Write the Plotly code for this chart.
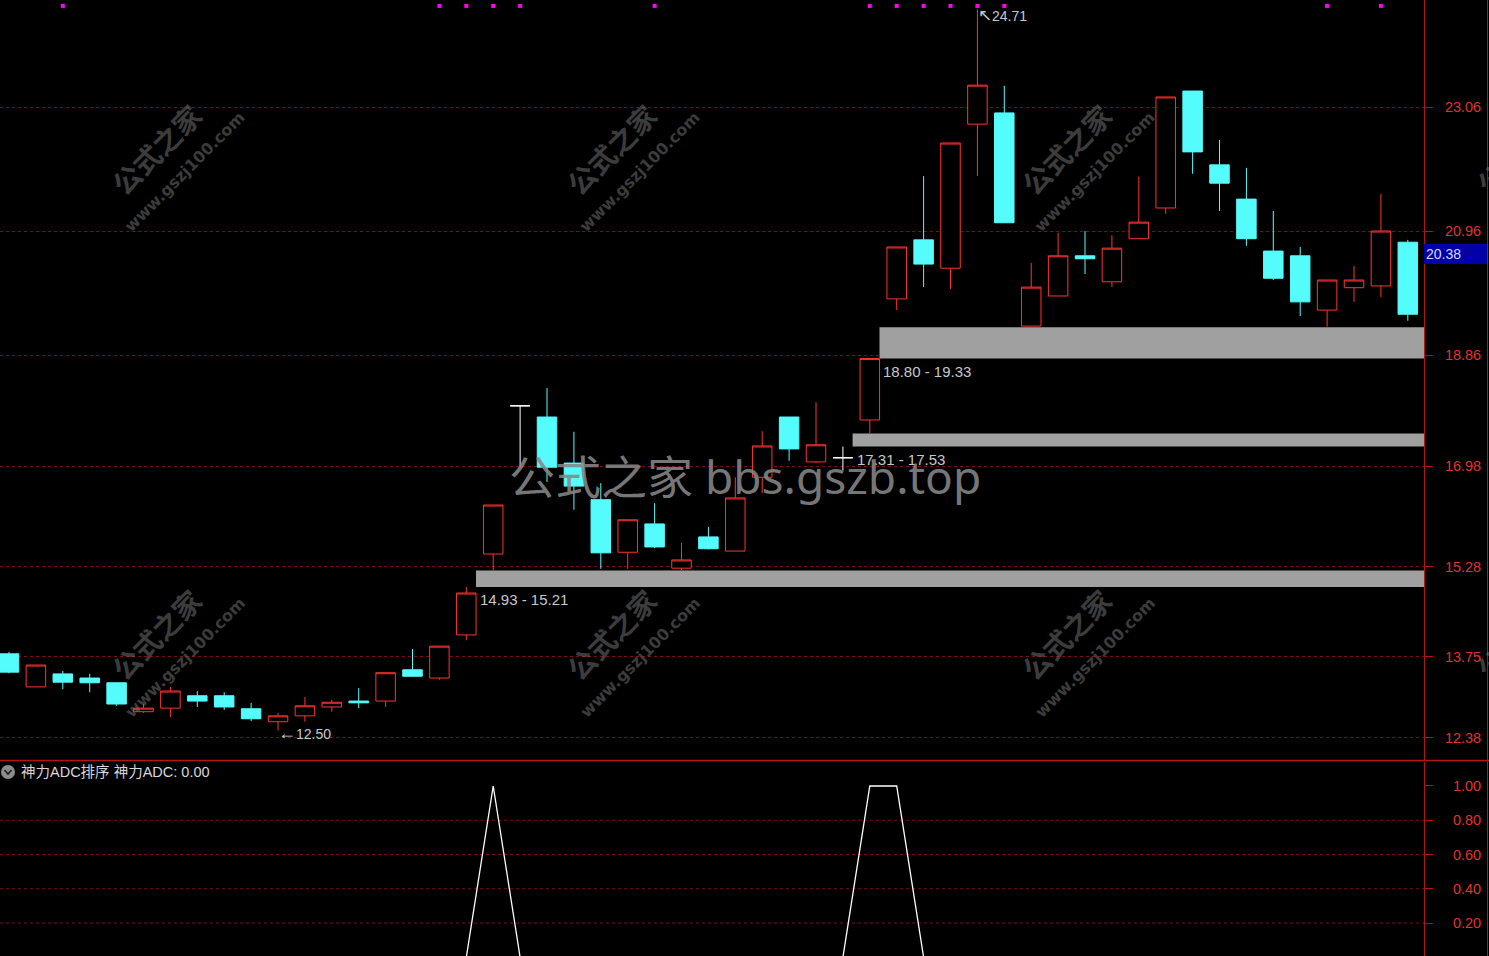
import plotly.graph_objects as go

# ---------------- data ----------------
OPEN = [13.80, 13.24, 13.46, 13.39, 13.31, 12.82, 12.88, 13.09, 13.09, 12.87,
        12.65, 12.75, 12.90, 13.00, 13.00, 13.53, 13.39, 14.12, 15.49, 18.00,
        17.81, 17.03, 16.41, 15.52, 16.00, 15.25, 15.78, 15.54, 16.79, 17.81,
        17.05, 17.12, 17.76, 19.81, 20.81, 20.33, 22.77, 22.96, 19.35, 19.86,
        20.54, 20.10, 20.83, 21.35, 23.33, 22.08, 21.50, 20.62, 20.54, 19.62,
        20.00, 20.03, 20.77]
HIGH = [13.83, 13.61, 13.51, 13.46, 13.31, 12.95, 13.24, 13.17, 13.15, 12.97,
        12.80, 13.07, 13.02, 13.22, 13.48, 13.88, 13.93, 14.93, 16.32, 18.00,
        18.30, 17.56, 16.69, 16.07, 16.35, 15.68, 15.95, 16.79, 17.57, 17.81,
        18.06, 17.31, 18.80, 20.69, 21.89, 22.45, 24.71, 23.42, 20.42, 20.93,
        20.96, 20.89, 21.88, 23.23, 23.33, 22.50, 22.03, 21.30, 20.69, 20.13,
        20.37, 21.59, 20.81]
LOW = [13.47, 13.24, 13.20, 13.15, 12.92, 12.80, 12.73, 12.90, 12.85, 12.66,
       12.50, 12.65, 12.82, 12.88, 12.90, 13.41, 13.36, 14.03, 15.21, 16.95,
       16.71, 16.24, 15.24, 15.24, 15.59, 15.22, 15.57, 15.54, 16.52, 17.07,
       17.03, 16.91, 17.53, 19.62, 20.01, 19.98, 21.89, 21.10, 19.35, 19.86,
       20.23, 20.01, 20.83, 21.25, 21.93, 21.30, 20.71, 20.13, 19.52, 19.34,
       19.76, 19.84, 19.44]
CLOSE = [13.49, 13.61, 13.32, 13.31, 12.95, 12.88, 13.17, 13.00, 12.90, 12.70,
         12.75, 12.92, 12.98, 12.97, 13.48, 13.42, 13.93, 14.83, 16.32, 18.00,
         16.96, 16.64, 15.51, 16.07, 15.61, 15.39, 15.58, 16.44, 17.32, 17.27,
         17.34, 17.12, 18.80, 20.69, 20.40, 22.45, 23.43, 21.10, 20.01, 20.54,
         20.49, 20.67, 21.11, 23.23, 22.30, 21.77, 20.83, 20.16, 19.76, 20.13,
         20.13, 20.96, 19.55]
DOJI_IDX = [19, 31]
ADC = [0, 0, 0, 0, 0, 0, 0, 0, 0, 0,
       0, 0, 0, 0, 0, 0, 0, 0, 1, 0,
       0, 0, 0, 0, 0, 0, 0, 0, 0, 0,
       0, 0, 1, 1, 0, 0, 0, 0, 0, 0,
       0, 0, 0, 0, 0, 0, 0, 0, 0, 0,
       0, 0, 0]
SIGNAL_IDX = [2, 16, 17, 18, 19, 24, 32, 33, 34, 35, 36, 37, 49, 51]
ZONE_START = [17, 31, 32]
ZONE_LO = [14.93, 17.31, 18.80]
ZONE_HI = [15.21, 17.53, 19.33]
PRICE_TICKS = [12.38, 13.75, 15.28, 16.98, 18.86, 20.96, 23.06]
ADC_TICKS = [0.20, 0.40, 0.60, 0.80, 1.00]
ADC_GRID = [0.20, 0.40, 0.60, 0.80]
LAST_PRICE = 20.38
HIGH_IDX, HIGH_VAL = 36, 24.71
LOW_IDX, LOW_VAL = 10, 12.50
PANEL_TITLE = "神力ADC排序 神力ADC: 0.00"

# ---------------- geometry / style ----------------
W, H = 1489, 956
PW = 1424
XMIN, XMAX = -0.335, 52.602
YMIN, YMAX = 12.002, 24.872
Y2MIN, Y2MAX = 0.0073, 1.1401
MAIN_DOM = [1 - 760 / H, 1.0]
SUB_DOM = [0.0, 1 - 762 / H]

RED = "#ff3232"
CYAN = "#54fcfc"
AXRED = "#b41414"
GRID = "#7a1010"
LABEL = "#e03232"
TXT = "#c8c8c8"

idx = list(range(len(OPEN)))
normal = [i for i in idx if i not in DOJI_IDX]

fig = go.Figure()

fig.add_trace(go.Candlestick(
    x=normal,
    open=[OPEN[i] for i in normal], high=[HIGH[i] for i in normal],
    low=[LOW[i] for i in normal], close=[CLOSE[i] for i in normal],
    increasing=dict(line=dict(color=RED, width=1), fillcolor="#000000"),
    decreasing=dict(line=dict(color=CYAN, width=1), fillcolor=CYAN),
    whiskerwidth=0, xaxis="x", yaxis="y", showlegend=False, hoverinfo="skip"))

fig.add_trace(go.Candlestick(
    x=DOJI_IDX,
    open=[OPEN[i] for i in DOJI_IDX], high=[HIGH[i] for i in DOJI_IDX],
    low=[LOW[i] for i in DOJI_IDX], close=[CLOSE[i] for i in DOJI_IDX],
    increasing=dict(line=dict(color="#ffffff", width=1), fillcolor="#ffffff"),
    decreasing=dict(line=dict(color="#ffffff", width=1), fillcolor="#ffffff"),
    whiskerwidth=0, xaxis="x", yaxis="y", showlegend=False, hoverinfo="skip"))

fig.add_trace(go.Scatter(
    x=SIGNAL_IDX, y=[YMAX - 0.1] * len(SIGNAL_IDX), mode="markers",
    marker=dict(symbol="square", size=4, color="#ff00ff"),
    xaxis="x", yaxis="y", showlegend=False, hoverinfo="skip"))

fig.add_trace(go.Scatter(
    x=idx, y=ADC, mode="lines", line=dict(color="#ffffff", width=1.3),
    xaxis="x", yaxis="y2", showlegend=False, hoverinfo="skip"))

shapes = []
annotations = []

# gap zones
for s, lo, hi in zip(ZONE_START, ZONE_LO, ZONE_HI):
    shapes.append(dict(type="rect", xref="x", yref="y", x0=s + 0.36, x1=XMAX,
                       y0=lo, y1=hi, fillcolor="#a0a0a0", line=dict(width=0),
                       layer="between"))
    annotations.append(dict(xref="x", yref="y", x=s + 0.36, y=lo,
                            text=f"{lo:.2f} - {hi:.2f}", showarrow=False,
                            xanchor="left", yanchor="top", xshift=2, yshift=-2,
                            font=dict(family="Liberation Sans", size=15, color=TXT)))

# lower-panel grid
for g in ADC_GRID:
    shapes.append(dict(type="line", xref="paper", yref="y2", x0=0, x1=1, y0=g, y1=g,
                       line=dict(color=GRID, width=1, dash="dot"), layer="below"))

# frame lines
shapes.append(dict(type="line", xref="paper", yref="paper", x0=0, x1=W / PW,
                   y0=1 - 760.5 / H, y1=1 - 760.5 / H, line=dict(color=AXRED, width=1.5)))
shapes.append(dict(type="line", xref="paper", yref="paper", x0=1487.5 / PW, x1=1487.5 / PW,
                   y0=0, y1=1, line=dict(color=AXRED, width=1)))

# panel icon
shapes.append(dict(type="circle", xref="paper", yref="paper",
                   x0=1 / PW, x1=15 / PW, y0=1 - 779 / H, y1=1 - 765 / H,
                   fillcolor="#8c8c8c", line=dict(width=0)))
shapes.append(dict(type="path", xref="paper", yref="paper",
                   path=f"M {4.5/PW},{1-770/H} L {8/PW},{1-774/H} L {11.5/PW},{1-770/H}",
                   line=dict(color="#1a1a1a", width=1.5)))

# high / low marks
annotations.append(dict(xref="x", yref="y", x=HIGH_IDX, y=HIGH_VAL,
                        text=f"<span style='font-size:17px'>↖</span>{HIGH_VAL:.2f}",
                        showarrow=False, xanchor="left", yanchor="middle", xshift=-1, yshift=-6,
                        font=dict(family="Liberation Sans", size=14, color=TXT)))
annotations.append(dict(xref="x", yref="y", x=LOW_IDX, y=LOW_VAL,
                        text=f"<span style='font-size:18px'>←</span>{LOW_VAL:.2f}",
                        showarrow=False, xanchor="left", yanchor="middle", xshift=-2, yshift=-2,
                        font=dict(family="Liberation Sans", size=14, color=TXT)))

# last price label
annotations.append(dict(xref="paper", yref="y", x=1, y=LAST_PRICE, text=f"{LAST_PRICE:.2f}",
                        showarrow=False, xanchor="left", yanchor="middle", yshift=11,
                        width=59, align="left", bgcolor="#0000a8", bordercolor="#0000a8",
                        borderwidth=1, borderpad=1,
                        font=dict(family="Liberation Sans", size=14, color="#d8d8ff")))

# panel title
annotations.append(dict(xref="paper", yref="paper", x=19 / PW, y=1 - 772 / H, text=PANEL_TITLE,
                        showarrow=False, xanchor="left", yanchor="middle",
                        font=dict(family="Liberation Sans, Noto Sans CJK SC", size=14.5, color="#d8d8d8")))

# small watermarks
for r in range(2):
    for c in range(4):
        tx, ty = 156 + 455 * c, 149 + 485 * r
        annotations.append(dict(xref="paper", yref="paper", x=tx / PW, y=1 - ty / H,
                                text="<b>公式之家</b>", showarrow=False, textangle=-45,
                                xanchor="center", yanchor="middle",
                                font=dict(family="Noto Sans CJK SC", size=28,
                                          color="rgba(120,120,120,0.5)")))
        annotations.append(dict(xref="paper", yref="paper", x=(tx + 29) / PW, y=1 - (ty + 23) / H,
                                text="<b>www.gszj100.com</b>", showarrow=False, textangle=-45,
                                xanchor="center", yanchor="middle",
                                font=dict(family="DejaVu Sans", size=16,
                                          color="rgba(120,120,120,0.5)")))

# big watermark
annotations.append(dict(xref="paper", yref="paper", x=745 / PW, y=1 - 476 / H,
                        text="公式之家 bbs.gszb.top", showarrow=False,
                        xanchor="center", yanchor="middle",
                        font=dict(family="Noto Sans, Noto Sans CJK SC", size=46,
                                  color="rgba(135,135,135,0.9)")))

tickfont = dict(family="Liberation Sans", size=14.5, color=LABEL)

fig.update_layout(
    width=W, height=H, autosize=False,
    paper_bgcolor="#000000", plot_bgcolor="#000000",
    margin=dict(l=0, r=W - PW, t=0, b=0),
    showlegend=False, hovermode=False,
    boxgap=0.275, boxgroupgap=0,
    xaxis=dict(domain=[0, 1], range=[XMIN, XMAX], anchor="y2",
               showticklabels=False, showgrid=False, zeroline=False, showline=False,
               ticks="", rangeslider=dict(visible=False), fixedrange=True),
    yaxis=dict(domain=MAIN_DOM, range=[YMIN, YMAX], side="right", anchor="x",
               tickvals=PRICE_TICKS, ticktext=[f"{v:.2f}" for v in PRICE_TICKS],
               tickfont=tickfont, ticks="outside", ticklen=8, tickcolor=AXRED,
               ticklabelstandoff=9,
               showline=True, linecolor=AXRED, linewidth=1,
               showgrid=True, gridcolor=GRID, griddash="dot", gridwidth=1,
               zeroline=False, fixedrange=True),
    yaxis2=dict(domain=SUB_DOM, range=[Y2MIN, Y2MAX], side="right", anchor="x",
                tickvals=ADC_TICKS, ticktext=[f"{v:.2f}" for v in ADC_TICKS],
                tickfont=tickfont, ticks="outside", ticklen=8, tickcolor=AXRED,
                ticklabelstandoff=17,
                showline=True, linecolor=AXRED, linewidth=1,
                showgrid=False, zeroline=False, fixedrange=True),
    shapes=shapes, annotations=annotations,
)

fig.write_html("out.html", config={"displayModeBar": False},
               post_script="document.body.style.margin='0';document.body.style.background='#000';")
